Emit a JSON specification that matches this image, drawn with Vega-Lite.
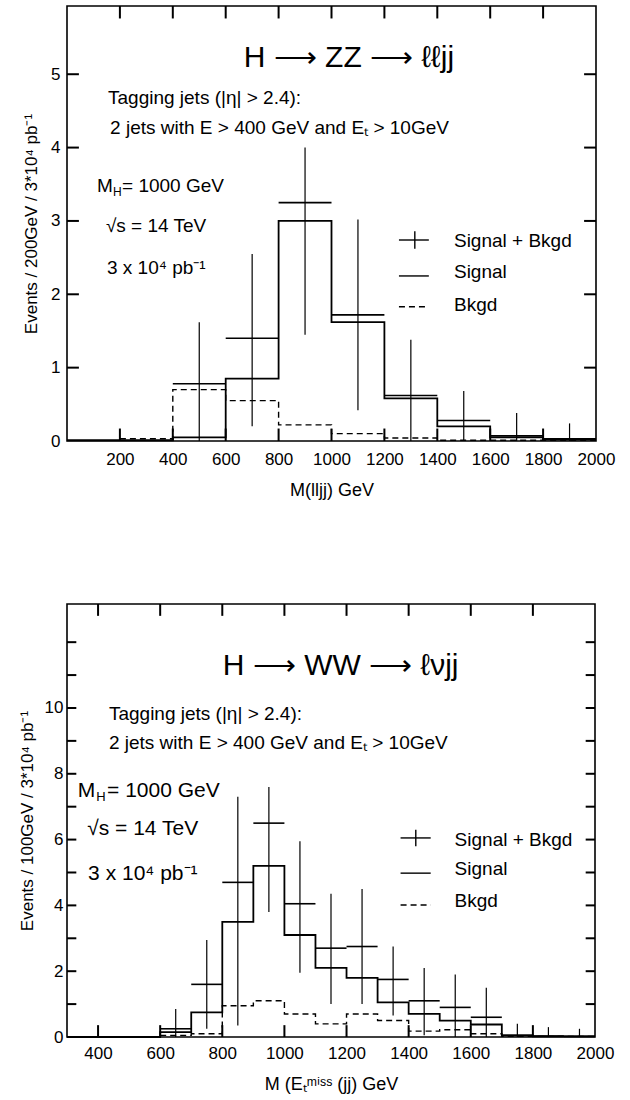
{
  "$schema": "https://vega.github.io/schema/vega-lite/v6.json",
  "background": "white",
  "padding": {"left": 17, "top": 4, "right": 0, "bottom": 0},
  "bounds": "flush",
  "spacing": 163,
  "config": {
    "font": "Liberation Sans",
    "view": {"stroke": "black", "strokeWidth": 1.6},
    "axis": {"domain": false, "ticks": false, "grid": false,
             "labelColor": "black", "labelFont": "Liberation Sans", "labelFontSize": 17, "labelOverlap": false, "labelFlush": false,
             "titleFont": "Liberation Sans", "titleFontSize": 17, "titleFontWeight": "normal", "titleColor": "black",
             "labelPadding": 8, "format": "d"},
    "text": {"font": "Liberation Sans", "color": "black"}
  },
  "datasets": {
    "zz_signal": [
      {"m": 0, "n": 0.01}, {"m": 200, "n": 0.01}, {"m": 400, "n": 0.05}, {"m": 600, "n": 0.85},
      {"m": 800, "n": 3.0}, {"m": 1000, "n": 1.62}, {"m": 1200, "n": 0.58}, {"m": 1400, "n": 0.2},
      {"m": 1600, "n": 0.05}, {"m": 1800, "n": 0.02}, {"m": 2000, "n": 0.02}
    ],
    "zz_bkgd": [
      {"m": 200, "n": 0.03}, {"m": 400, "n": 0.7}, {"m": 600, "n": 0.55}, {"m": 800, "n": 0.22},
      {"m": 1000, "n": 0.1}, {"m": 1200, "n": 0.04}, {"m": 1400, "n": 0.01}, {"m": 1600, "n": 0.01}, {"m": 2000, "n": 0.01}
    ],
    "zz_sb": [
      {"lo": 400, "hi": 600, "c": 500, "v": 0.78, "elo": 0, "ehi": 1.62},
      {"lo": 600, "hi": 800, "c": 700, "v": 1.4, "elo": 0.2, "ehi": 2.55},
      {"lo": 800, "hi": 1000, "c": 900, "v": 3.25, "elo": 1.45, "ehi": 4.0},
      {"lo": 1000, "hi": 1200, "c": 1100, "v": 1.72, "elo": 0.42, "ehi": 3.02},
      {"lo": 1200, "hi": 1400, "c": 1300, "v": 0.62, "elo": 0, "ehi": 1.38},
      {"lo": 1400, "hi": 1600, "c": 1500, "v": 0.28, "elo": 0, "ehi": 0.68},
      {"lo": 1600, "hi": 1800, "c": 1700, "v": 0.07, "elo": 0, "ehi": 0.38},
      {"lo": 1800, "hi": 2000, "c": 1900, "v": 0.03, "elo": 0, "ehi": 0.24}
    ],
    "zz_xticks": [{"v": 200}, {"v": 400}, {"v": 600}, {"v": 800}, {"v": 1000}, {"v": 1200}, {"v": 1400}, {"v": 1600}, {"v": 1800}],
    "zz_yticks": [{"v": 1}, {"v": 2}, {"v": 3}, {"v": 4}, {"v": 5}],
    "zz_title": [{"x": 1066, "y": 5.22, "t": "H ⟶ ZZ ⟶ ℓℓjj"}],
    "zz_text": [
      {"x": 155, "y": 4.68, "t": "Tagging jets (|η| > 2.4):"},
      {"x": 163, "y": 4.27, "t": "2 jets with E > 400 GeV and Eₜ > 10GeV"},
      {"x": 113, "y": 3.48, "t": "M"},
      {"x": 208, "y": 3.48, "t": "= 1000 GeV"},
      {"x": 147, "y": 2.93, "t": "√s = 14 TeV"},
      {"x": 151, "y": 2.36, "t": "3 x 10⁴ pb⁻¹"},
      {"x": 1463, "y": 2.73, "t": "Signal + Bkgd"},
      {"x": 1463, "y": 2.3, "t": "Signal"},
      {"x": 1463, "y": 1.86, "t": "Bkgd"}
    ],
    "zz_sub": [{"x": 174, "y": 3.39, "t": "H"}],
    "zz_leg_solid": [
      {"x1": 1255, "x2": 1368, "y1": 2.74, "y2": 2.74},
      {"x1": 1315, "x2": 1315, "y1": 2.62, "y2": 2.86},
      {"x1": 1255, "x2": 1368, "y1": 2.25, "y2": 2.25}
    ],
    "zz_leg_dash": [{"x1": 1255, "x2": 1368, "y1": 1.83, "y2": 1.83}],

    "ww_signal": [
      {"m": 300, "n": 0.0}, {"m": 600, "n": 0.15}, {"m": 700, "n": 0.75}, {"m": 800, "n": 3.5},
      {"m": 900, "n": 5.2}, {"m": 1000, "n": 3.1}, {"m": 1100, "n": 2.1}, {"m": 1200, "n": 1.8},
      {"m": 1300, "n": 1.05}, {"m": 1400, "n": 0.7}, {"m": 1500, "n": 0.5}, {"m": 1600, "n": 0.38},
      {"m": 1700, "n": 0.05}, {"m": 1800, "n": 0.02}, {"m": 2000, "n": 0.02}
    ],
    "ww_bkgd": [
      {"m": 600, "n": 0.05}, {"m": 700, "n": 0.1}, {"m": 800, "n": 0.95}, {"m": 900, "n": 1.1},
      {"m": 1000, "n": 0.7}, {"m": 1100, "n": 0.4}, {"m": 1200, "n": 0.7}, {"m": 1300, "n": 0.5},
      {"m": 1400, "n": 0.18}, {"m": 1500, "n": 0.22}, {"m": 1600, "n": 0.1}, {"m": 1700, "n": 0.02}, {"m": 2000, "n": 0.02}
    ],
    "ww_sb": [
      {"lo": 600, "hi": 700, "c": 650, "v": 0.25, "elo": 0, "ehi": 0.85},
      {"lo": 700, "hi": 800, "c": 750, "v": 1.6, "elo": 0.25, "ehi": 2.95},
      {"lo": 800, "hi": 900, "c": 850, "v": 4.7, "elo": 0.35, "ehi": 7.3},
      {"lo": 900, "hi": 1000, "c": 950, "v": 6.5, "elo": 3.8, "ehi": 7.6},
      {"lo": 1000, "hi": 1100, "c": 1050, "v": 4.05, "elo": 1.95, "ehi": 5.95},
      {"lo": 1100, "hi": 1200, "c": 1150, "v": 2.7, "elo": 1.0, "ehi": 4.35},
      {"lo": 1200, "hi": 1300, "c": 1250, "v": 2.75, "elo": 1.0, "ehi": 4.5},
      {"lo": 1300, "hi": 1400, "c": 1350, "v": 1.75, "elo": 0.65, "ehi": 2.75},
      {"lo": 1400, "hi": 1500, "c": 1450, "v": 1.1, "elo": 0.05, "ehi": 2.1},
      {"lo": 1500, "hi": 1600, "c": 1550, "v": 0.9, "elo": 0, "ehi": 1.9},
      {"lo": 1600, "hi": 1700, "c": 1650, "v": 0.6, "elo": 0, "ehi": 1.5},
      {"lo": 1700, "hi": 1800, "c": 1750, "v": 0.05, "elo": 0, "ehi": 0.4},
      {"lo": 1800, "hi": 1900, "c": 1850, "v": 0.03, "elo": 0, "ehi": 0.3},
      {"lo": 1900, "hi": 2000, "c": 1950, "v": 0.02, "elo": 0, "ehi": 0.25}
    ],
    "ww_xticks": [{"v": 400}, {"v": 600}, {"v": 800}, {"v": 1000}, {"v": 1200}, {"v": 1400}, {"v": 1600}, {"v": 1800}],
    "ww_yticks": [{"v": 1}, {"v": 2}, {"v": 3}, {"v": 4}, {"v": 5}, {"v": 6}, {"v": 7}, {"v": 8}, {"v": 9}, {"v": 10}, {"v": 11}, {"v": 12}],
    "ww_title": [{"x": 1181, "y": 11.28, "t": "H ⟶ WW ⟶ ℓνjj"}],
    "ww_text": [
      {"x": 435, "y": 9.82, "t": "Tagging jets (|η| > 2.4):"},
      {"x": 435, "y": 8.94, "t": "2 jets with E > 400 GeV and Eₜ > 10GeV"},
      {"x": 1548, "y": 5.99, "t": "Signal + Bkgd"},
      {"x": 1548, "y": 5.1, "t": "Signal"},
      {"x": 1548, "y": 4.13, "t": "Bkgd"}
    ],
    "ww_big": [
      {"x": 335, "y": 7.48, "t": "M"},
      {"x": 429, "y": 7.48, "t": "= 1000 GeV"},
      {"x": 365, "y": 6.32, "t": "√s = 14 TeV"},
      {"x": 368, "y": 4.95, "t": "3 x 10⁴ pb⁻¹"}
    ],
    "ww_sub": [{"x": 394, "y": 7.28, "t": "H"}],
    "ww_leg_solid": [
      {"x1": 1374, "x2": 1471, "y1": 6.05, "y2": 6.05},
      {"x1": 1423, "x2": 1423, "y1": 5.8, "y2": 6.3},
      {"x1": 1374, "x2": 1471, "y1": 4.98, "y2": 4.98}
    ],
    "ww_leg_dash": [{"x1": 1374, "x2": 1471, "y1": 4.01, "y2": 4.01}]
  },
  "vconcat": [
    {
      "width": 529,
      "height": 435,
      "layer": [
        {
          "data": {"name": "zz_signal"},
          "mark": {"type": "line", "interpolate": "step-after", "color": "black", "strokeWidth": 1.8},
          "encoding": {
            "x": {"field": "m", "type": "quantitative", "scale": {"domain": [0, 2000], "nice": false, "zero": false},
                  "axis": {"orient": "bottom", "values": [200, 400, 600, 800, 1000, 1200, 1400, 1600, 1800, 2000],
                           "title": "M(lljj)  GeV", "titleFontSize": 18, "labelPadding": 10, "titlePadding": 14}},
            "y": {"field": "n", "type": "quantitative", "scale": {"domain": [0, 5.93], "nice": false},
                  "axis": {"orient": "left", "values": [0, 1, 2, 3, 4, 5], "labelPadding": 7,
                           "title": "Events / 200GeV / 3*10⁴ pb⁻¹", "titlePadding": 10}}
          }
        },
        {
          "data": {"name": "zz_bkgd"},
          "mark": {"type": "line", "interpolate": "step-after", "color": "black", "strokeWidth": 1.4, "strokeDash": [6, 4]},
          "encoding": {
            "x": {"field": "m", "type": "quantitative"},
            "y": {"field": "n", "type": "quantitative"}
          }
        },
        {
          "data": {"name": "zz_xticks"},
          "mark": {"type": "rule", "color": "black", "strokeWidth": 2, "opacity": 1},
          "encoding": {
            "x": {"field": "v", "type": "quantitative"},
            "y": {"datum": 0, "type": "quantitative"},
            "y2": {"datum": 0.17}
          }
        },
        {
          "data": {"name": "zz_xticks"},
          "mark": {"type": "rule", "color": "black", "strokeWidth": 2, "opacity": 1},
          "encoding": {
            "x": {"field": "v", "type": "quantitative"},
            "y": {"datum": 5.93, "type": "quantitative"},
            "y2": {"datum": 5.76}
          }
        },
        {
          "data": {"name": "zz_yticks"},
          "mark": {"type": "rule", "color": "black", "strokeWidth": 2, "opacity": 1},
          "encoding": {
            "y": {"field": "v", "type": "quantitative"},
            "x": {"datum": 0, "type": "quantitative"},
            "x2": {"datum": 45}
          }
        },
        {
          "data": {"name": "zz_yticks"},
          "mark": {"type": "rule", "color": "black", "strokeWidth": 2, "opacity": 1},
          "encoding": {
            "y": {"field": "v", "type": "quantitative"},
            "x": {"datum": 2000, "type": "quantitative"},
            "x2": {"datum": 1955}
          }
        },
        {
          "data": {"name": "zz_sb"},
          "mark": {"type": "rule", "color": "black", "strokeWidth": 1.6},
          "encoding": {
            "x": {"field": "lo", "type": "quantitative"},
            "x2": {"field": "hi"},
            "y": {"field": "v", "type": "quantitative"}
          }
        },
        {
          "data": {"name": "zz_sb"},
          "mark": {"type": "rule", "color": "black", "strokeWidth": 1.2},
          "encoding": {
            "x": {"field": "c", "type": "quantitative"},
            "y": {"field": "elo", "type": "quantitative"},
            "y2": {"field": "ehi"}
          }
        },
        {
          "data": {"name": "zz_leg_solid"},
          "mark": {"type": "rule", "color": "black", "strokeWidth": 1.4},
          "encoding": {
            "x": {"field": "x1", "type": "quantitative"},
            "x2": {"field": "x2"},
            "y": {"field": "y1", "type": "quantitative"},
            "y2": {"field": "y2"}
          }
        },
        {
          "data": {"name": "zz_leg_dash"},
          "mark": {"type": "rule", "color": "black", "strokeWidth": 1.4, "strokeDash": [6, 4]},
          "encoding": {
            "x": {"field": "x1", "type": "quantitative"},
            "x2": {"field": "x2"},
            "y": {"field": "y1", "type": "quantitative"},
            "y2": {"field": "y2"}
          }
        },
        {
          "data": {"name": "zz_title"},
          "mark": {"type": "text", "fontSize": 30, "align": "center", "baseline": "middle"},
          "encoding": {
            "x": {"field": "x", "type": "quantitative"},
            "y": {"field": "y", "type": "quantitative"},
            "text": {"field": "t"}
          }
        },
        {
          "data": {"name": "zz_text"},
          "mark": {"type": "text", "fontSize": 19, "align": "left", "baseline": "middle"},
          "encoding": {
            "x": {"field": "x", "type": "quantitative"},
            "y": {"field": "y", "type": "quantitative"},
            "text": {"field": "t"}
          }
        },
        {
          "data": {"name": "zz_sub"},
          "mark": {"type": "text", "fontSize": 12, "align": "left", "baseline": "middle"},
          "encoding": {
            "x": {"field": "x", "type": "quantitative"},
            "y": {"field": "y", "type": "quantitative"},
            "text": {"field": "t"}
          }
        }
      ]
    },
    {
      "width": 528,
      "height": 433,
      "layer": [
        {
          "data": {"name": "ww_signal"},
          "mark": {"type": "line", "interpolate": "step-after", "color": "black", "strokeWidth": 1.8},
          "encoding": {
            "x": {"field": "m", "type": "quantitative", "scale": {"domain": [300, 2000], "nice": false, "zero": false},
                  "axis": {"orient": "bottom", "values": [400, 600, 800, 1000, 1200, 1400, 1600, 1800, 2000],
                           "title": "M (Eₜᵐⁱˢˢ (jj)  GeV", "titleFontSize": 18, "labelPadding": 8, "titlePadding": 14}},
            "y": {"field": "n", "type": "quantitative", "scale": {"domain": [0, 13.16], "nice": false},
                  "axis": {"orient": "left", "values": [0, 2, 4, 6, 8, 10],
                           "title": "Events / 100GeV / 3*10⁴ pb⁻¹", "labelPadding": 4, "titlePadding": 8}}
          }
        },
        {
          "data": {"name": "ww_bkgd"},
          "mark": {"type": "line", "interpolate": "step-after", "color": "black", "strokeWidth": 1.4, "strokeDash": [6, 4]},
          "encoding": {
            "x": {"field": "m", "type": "quantitative"},
            "y": {"field": "n", "type": "quantitative"}
          }
        },
        {
          "data": {"name": "ww_xticks"},
          "mark": {"type": "rule", "color": "black", "strokeWidth": 2, "opacity": 1},
          "encoding": {
            "x": {"field": "v", "type": "quantitative"},
            "y": {"datum": 0, "type": "quantitative"},
            "y2": {"datum": 0.36}
          }
        },
        {
          "data": {"name": "ww_xticks"},
          "mark": {"type": "rule", "color": "black", "strokeWidth": 2, "opacity": 1},
          "encoding": {
            "x": {"field": "v", "type": "quantitative"},
            "y": {"datum": 13.16, "type": "quantitative"},
            "y2": {"datum": 12.8}
          }
        },
        {
          "data": {"name": "ww_yticks"},
          "mark": {"type": "rule", "color": "black", "strokeWidth": 2, "opacity": 1},
          "encoding": {
            "y": {"field": "v", "type": "quantitative"},
            "x": {"datum": 300, "type": "quantitative"},
            "x2": {"datum": 330}
          }
        },
        {
          "data": {"name": "ww_yticks"},
          "mark": {"type": "rule", "color": "black", "strokeWidth": 2, "opacity": 1},
          "encoding": {
            "y": {"field": "v", "type": "quantitative"},
            "x": {"datum": 2000, "type": "quantitative"},
            "x2": {"datum": 1970}
          }
        },
        {
          "data": {"name": "ww_sb"},
          "mark": {"type": "rule", "color": "black", "strokeWidth": 1.6},
          "encoding": {
            "x": {"field": "lo", "type": "quantitative"},
            "x2": {"field": "hi"},
            "y": {"field": "v", "type": "quantitative"}
          }
        },
        {
          "data": {"name": "ww_sb"},
          "mark": {"type": "rule", "color": "black", "strokeWidth": 1.2},
          "encoding": {
            "x": {"field": "c", "type": "quantitative"},
            "y": {"field": "elo", "type": "quantitative"},
            "y2": {"field": "ehi"}
          }
        },
        {
          "data": {"name": "ww_leg_solid"},
          "mark": {"type": "rule", "color": "black", "strokeWidth": 1.4},
          "encoding": {
            "x": {"field": "x1", "type": "quantitative"},
            "x2": {"field": "x2"},
            "y": {"field": "y1", "type": "quantitative"},
            "y2": {"field": "y2"}
          }
        },
        {
          "data": {"name": "ww_leg_dash"},
          "mark": {"type": "rule", "color": "black", "strokeWidth": 1.4, "strokeDash": [6, 4]},
          "encoding": {
            "x": {"field": "x1", "type": "quantitative"},
            "x2": {"field": "x2"},
            "y": {"field": "y1", "type": "quantitative"},
            "y2": {"field": "y2"}
          }
        },
        {
          "data": {"name": "ww_title"},
          "mark": {"type": "text", "fontSize": 30, "align": "center", "baseline": "middle"},
          "encoding": {
            "x": {"field": "x", "type": "quantitative"},
            "y": {"field": "y", "type": "quantitative"},
            "text": {"field": "t"}
          }
        },
        {
          "data": {"name": "ww_text"},
          "mark": {"type": "text", "fontSize": 19, "align": "left", "baseline": "middle"},
          "encoding": {
            "x": {"field": "x", "type": "quantitative"},
            "y": {"field": "y", "type": "quantitative"},
            "text": {"field": "t"}
          }
        },
        {
          "data": {"name": "ww_big"},
          "mark": {"type": "text", "fontSize": 21, "align": "left", "baseline": "middle"},
          "encoding": {
            "x": {"field": "x", "type": "quantitative"},
            "y": {"field": "y", "type": "quantitative"},
            "text": {"field": "t"}
          }
        },
        {
          "data": {"name": "ww_sub"},
          "mark": {"type": "text", "fontSize": 13, "align": "left", "baseline": "middle"},
          "encoding": {
            "x": {"field": "x", "type": "quantitative"},
            "y": {"field": "y", "type": "quantitative"},
            "text": {"field": "t"}
          }
        }
      ]
    }
  ]
}
